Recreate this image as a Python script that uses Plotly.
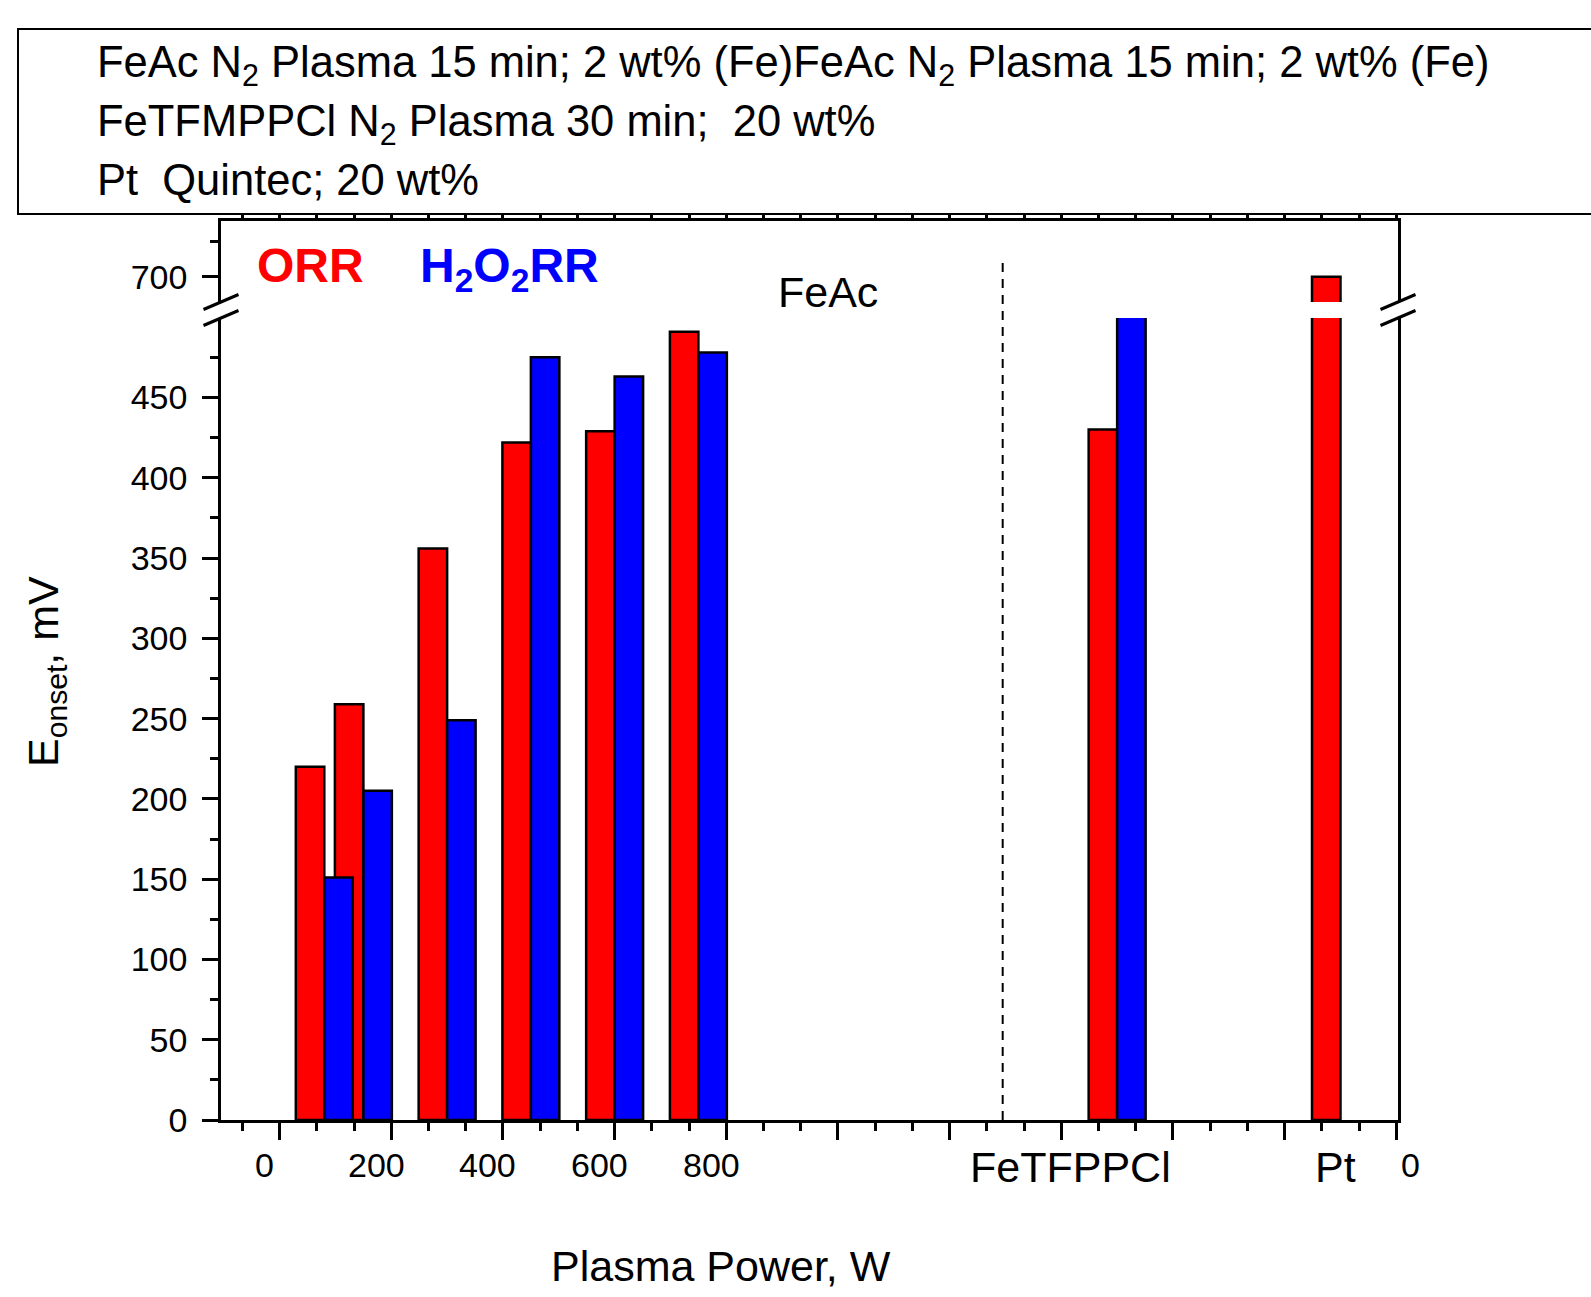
import plotly.graph_objects as go

# ---- data -------------------------------------------------------------
# x position of each sample on the power axis (W); FeTFPPCl and Pt are placed
# at 1500 and 1900 on the same axis
power = [80, 150, 300, 450, 600, 750, 1500, 1900]
# onset potentials, mV
orr_onset = [220, 259, 356, 422, 429, 491, 430, 700]
h2o2rr_onset = [151, 205, 249, 475, 463, 478, 600, None]

x_tick_labels = ["0", "200", "400", "600", "800"]
x_tick_label_pos = [-27, 173, 373, 573, 773]
sample_labels = ["FeTFPPCl", "Pt"]
sample_label_pos = [1416, 1891]
end_label = "0"

y_low_ticks = [0, 50, 100, 150, 200, 250, 300, 350, 400, 450]
y_high_ticks = [700]

legend_lines = [
    "FeAc N<sub>2</sub> Plasma 15 min; 2 wt% (Fe)FeAc N<sub>2</sub> Plasma 15 min; 2 wt% (Fe)",
    "FeTFMPPCl N<sub>2</sub> Plasma 30 min;\u00a0 20 wt%",
    "Pt\u00a0 Quintec; 20 wt%",
]

# ---- geometry ---------------------------------------------------------
W, H = 1591, 1297
L, R, T, B = 221, 193, 221, 177
PW, PH = W - L - R, H - T - B
X_RANGE = [-105, 2003]
BAR_W = 51

def px(xp):
    return (xp - L) / PW

def py(yp):
    return (H - B - yp) / PH

low_top = py(318)
high_bot = py(302)

FONT = "Liberation Sans, Arial, sans-serif"
RED = "#FF0000"
BLUE = "#0000FF"

fig = go.Figure()
for yax in ["y", "y2"]:
    fig.add_trace(go.Bar(
        x=power, y=orr_onset, width=BAR_W, offset=-BAR_W,
        marker=dict(color=RED, line=dict(color="black", width=2.5)),
        xaxis="x", yaxis=yax, showlegend=False, name="ORR"))
    fig.add_trace(go.Bar(
        x=power, y=h2o2rr_onset, width=BAR_W, offset=0,
        marker=dict(color=BLUE, line=dict(color="black", width=2.5)),
        xaxis="x", yaxis=yax, showlegend=False, name="H2O2RR"))
# empty trace so the top (mirror) axis gets its own subplot and is drawn
fig.add_trace(go.Scatter(x=[None], y=[None], xaxis="x2", yaxis="y2",
                         showlegend=False, hoverinfo="skip"))

axis_common = dict(
    showline=True, linecolor="black", linewidth=2.5,
    ticks="outside", tickcolor="black", tickwidth=2.5,
    showgrid=False, zeroline=False,
)
x_common = dict(
    axis_common, range=X_RANGE, tick0=0, dtick=200, ticklen=17,
    showticklabels=False,
    minor=dict(tick0=0, dtick=200 / 3, ticks="outside", ticklen=8,
               tickwidth=2.5, tickcolor="black", showgrid=False),
)
y_common = dict(
    axis_common, ticklen=16, mirror=True,
    tickfont=dict(family=FONT, size=34, color="black"),
    ticklabelstandoff=8,
    minor=dict(tick0=0, dtick=25, ticks="outside", ticklen=8,
               tickwidth=2.5, tickcolor="black", showgrid=False),
)

fig.update_layout(
    width=W, height=H,
    margin=dict(l=L, r=R, t=T, b=B, pad=0),
    paper_bgcolor="white", plot_bgcolor="white",
    barmode="overlay",
    font=dict(family=FONT, color="black"),
    xaxis=dict(x_common, domain=[0, 1], anchor="y"),
    xaxis2=dict(x_common, overlaying="x", matches="x", anchor="y2", side="top"),
    yaxis=dict(y_common, domain=[0, low_top], range=[0, 499.5],
               tickvals=y_low_ticks, anchor="x"),
    yaxis2=dict(y_common, domain=[high_bot, 1], range=[682, 740],
                tickvals=y_high_ticks, anchor="x"),
)

shapes = []
# legend frame (runs off the right edge)
shapes.append(dict(type="rect", xref="paper", yref="paper",
                   x0=px(18), x1=px(1620), y0=py(214), y1=py(29),
                   line=dict(color="black", width=2), fillcolor="white",
                   layer="above"))
# axis-break marks on both sides
for xa in (0, 1):
    for ya in (low_top, high_bot):
        shapes.append(dict(type="line", xref="paper", yref="paper",
                           xsizemode="pixel", ysizemode="pixel",
                           xanchor=xa, yanchor=ya,
                           x0=-17.5, x1=17.5, y0=-7.5, y1=7.5,
                           line=dict(color="black", width=3), layer="above"))
# separator between FeAc series and reference catalysts
shapes.append(dict(type="line", xref="x", yref="paper",
                   x0=1295, x1=1295, y0=0, y1=py(262),
                   line=dict(color="black", width=2, dash="9px,7px")))
fig.update_layout(shapes=shapes)

ann = []
for t, xv in zip(x_tick_labels, x_tick_label_pos):
    ann.append(dict(text=t, x=xv, xref="x", y=py(1165), yref="paper",
                    xanchor="center", yanchor="middle", showarrow=False,
                    font=dict(size=34, family=FONT, color="black")))
for t, xv in zip(sample_labels, sample_label_pos):
    ann.append(dict(text=t, x=xv, xref="x", y=py(1167), yref="paper",
                    xanchor="center", yanchor="middle", showarrow=False,
                    font=dict(size=43, family=FONT, color="black")))
ann.append(dict(text=end_label, x=px(1410), xref="paper", y=py(1165),
                yref="paper", xanchor="center", yanchor="middle",
                showarrow=False, font=dict(size=34, family=FONT, color="black")))

# axis titles
ann.append(dict(text="Plasma Power, W", x=px(721), y=py(1266),
                xref="paper", yref="paper", showarrow=False,
                xanchor="center", yanchor="middle",
                font=dict(size=43, family=FONT, color="black")))
ann.append(dict(text="E<sub>onset</sub>, mV", x=px(46), y=py(672),
                xref="paper", yref="paper", showarrow=False, textangle=-90,
                xanchor="center", yanchor="middle",
                font=dict(size=43, family=FONT, color="black")))

# in-plot labels
ann.append(dict(text="<b>ORR</b>", x=px(255), y=py(265), xref="paper",
                yref="paper", showarrow=False, xanchor="left",
                yanchor="middle", font=dict(size=48, family=FONT, color=RED)))
ann.append(dict(text="<b>H<sub>2</sub>O<sub>2</sub>RR</b>", x=px(418),
                y=py(269), xref="paper", yref="paper", showarrow=False,
                xanchor="left", yanchor="middle",
                font=dict(size=48, family=FONT, color=BLUE)))
ann.append(dict(text="FeAc", x=px(776), y=py(292), xref="paper",
                yref="paper", showarrow=False, xanchor="left",
                yanchor="middle", font=dict(size=43, family=FONT, color="black")))

# legend text
for t, yc in zip(legend_lines, [65, 124, 180]):
    ann.append(dict(text=t, x=px(95), y=py(yc), xref="paper", yref="paper",
                    showarrow=False, xanchor="left", yanchor="middle",
                    align="left",
                    font=dict(size=43.5, family=FONT, color="black")))

fig.update_layout(annotations=ann)

fig.write_html("out.html")
